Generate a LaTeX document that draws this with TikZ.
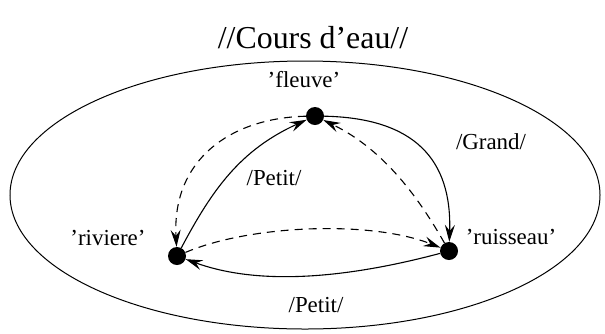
\documentclass[tikz,border=0pt]{standalone}
\usepackage{fontspec}
\setmainfont{Liberation Serif}
\usetikzlibrary{arrows.meta}
\begin{document}
\begin{tikzpicture}[x=1bp,y=-1bp,
  state/.style={circle,fill=black,inner sep=0pt,minimum size=18bp},
  lbl/.style={font=\fontsize{23}{25}\selectfont,inner sep=0pt},
  trans/.style={line width=1.1bp,-{Stealth[length=17bp,width=10bp,inset=6bp]}},
  dtrans/.style={trans,dash pattern=on 8bp off 6bp}]
\useasboundingbox (0,0) rectangle (605,333);
\node[font=\fontsize{32}{35}\selectfont] (title) at (313,38) {//Cours d’eau//};
\draw[line width=1bp] (305,195) ellipse [x radius=295, y radius=134];
\node[state] (f) at (315,116) {};
\node[state] (v) at (177,256) {};
\node[state] (s) at (449,251) {};
\node[lbl] (lf) at (304,80) {’fleuve’};
\node[lbl] (lv) at (108,238) {’riviere’};
\node[lbl] (ls) at (511,237) {’ruisseau’};
\draw[trans] (f) .. controls (415,118) and (452,160) .. (s);
\node[lbl] (g) at (491,142) {/Grand/};
\draw[trans] (v) .. controls (212,190) and (240,150) .. (f);
\node[lbl] (p1) at (274,178) {/Petit/};
\draw[trans] (s) .. controls (370,272) and (270,290) .. (v);
\node[lbl] (p2) at (316,305) {/Petit/};
\draw[dtrans] (f) .. controls (230,118) and (172,160) .. (v);
\draw[dtrans] (v) .. controls (250,225) and (370,220) .. (s);
\draw[dtrans] (s) .. controls (420,200) and (385,150) .. (f);
\end{tikzpicture}
\end{document}
